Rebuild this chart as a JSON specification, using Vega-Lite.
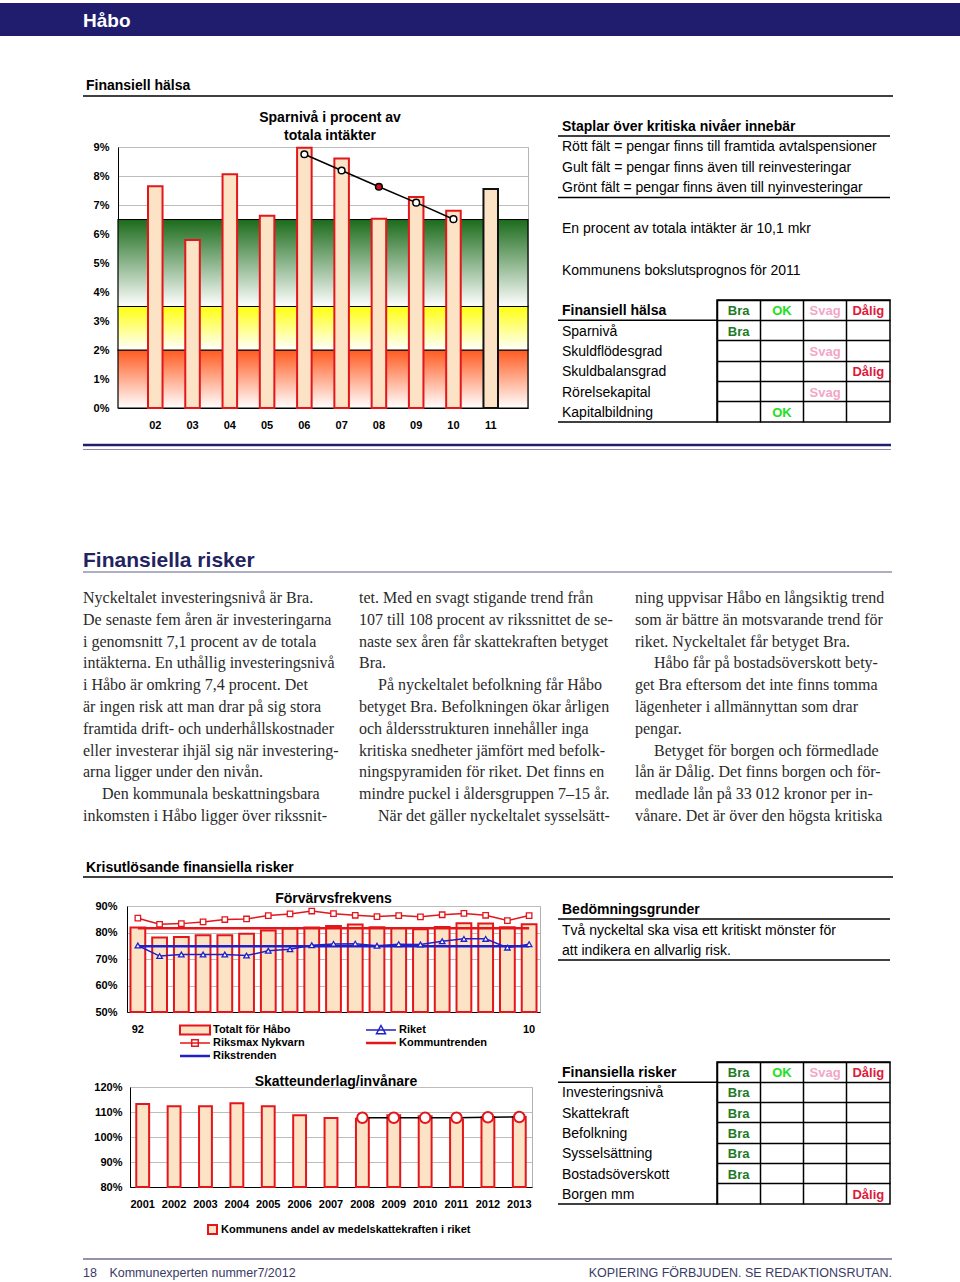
{
"$schema":"https://vega.github.io/schema/vega-lite/v6.json",
"padding":{"top":3,"left":0,"right":0,"bottom":0},
"background":"#ffffff",
"spacing":0,
"bounds":"flush",
"config":{"view":{"stroke":null},"font":"Liberation Sans","axis":{"labelFont":"Liberation Sans","labelFontWeight":"bold","labelFontSize":11,"labelColor":"#000000","domainColor":"#000000","domainWidth":1,"labelOverlap":false},"title":{"font":"Liberation Sans","fontWeight":"bold","fontSize":14,"color":"#000000"}},
"datasets":{
"sparniva":[
{"ar":"02","varde":7.65,"trend":null,"typ":"Utfall"},
{"ar":"03","varde":5.79,"trend":null,"typ":"Utfall"},
{"ar":"04","varde":8.06,"trend":null,"typ":"Utfall"},
{"ar":"05","varde":6.63,"trend":null,"typ":"Utfall"},
{"ar":"06","varde":8.97,"trend":8.75,"typ":"Utfall"},
{"ar":"07","varde":8.6,"trend":8.19,"typ":"Utfall"},
{"ar":"08","varde":6.53,"trend":7.63,"typ":"Utfall"},
{"ar":"09","varde":7.28,"trend":7.08,"typ":"Utfall"},
{"ar":"10","varde":6.8,"trend":6.51,"typ":"Utfall"},
{"ar":"11","varde":7.55,"trend":null,"typ":"Prognos"}],
"zoner":[{"zon":"Rött","fran":0,"till":2},{"zon":"Gult","fran":2,"till":3.5},{"zon":"Grönt","fran":3.5,"till":6.5}],
"forvarv":[
{"ar":1992,"habo":81.9,"riksmax":85.4,"riket":75.1,"kommuntrend":81.6,"rikstrend":74.8},
{"ar":1993,"habo":78.1,"riksmax":83.1,"riket":71.1,"kommuntrend":81.6,"rikstrend":74.8},
{"ar":1994,"habo":78.3,"riksmax":83.35,"riket":71.7,"kommuntrend":81.6,"rikstrend":74.8},
{"ar":1995,"habo":79.0,"riksmax":84.0,"riket":71.7,"kommuntrend":81.6,"rikstrend":74.8},
{"ar":1996,"habo":79.0,"riksmax":84.9,"riket":71.7,"kommuntrend":81.6,"rikstrend":74.8},
{"ar":1997,"habo":79.5,"riksmax":85.1,"riket":71.3,"kommuntrend":81.6,"rikstrend":74.8},
{"ar":1998,"habo":80.8,"riksmax":86.4,"riket":73.1,"kommuntrend":81.6,"rikstrend":74.8},
{"ar":1999,"habo":81.5,"riksmax":87.0,"riket":73.7,"kommuntrend":81.6,"rikstrend":74.8},
{"ar":2000,"habo":81.9,"riksmax":88.1,"riket":75.2,"kommuntrend":81.6,"rikstrend":74.8},
{"ar":2001,"habo":82.5,"riksmax":87.1,"riket":75.7,"kommuntrend":81.6,"rikstrend":74.8},
{"ar":2002,"habo":83.0,"riksmax":86.5,"riket":75.8,"kommuntrend":81.6,"rikstrend":74.8},
{"ar":2003,"habo":82.0,"riksmax":86.0,"riket":75.0,"kommuntrend":81.6,"rikstrend":74.8},
{"ar":2004,"habo":81.7,"riksmax":86.4,"riket":75.6,"kommuntrend":81.6,"rikstrend":74.8},
{"ar":2005,"habo":81.2,"riksmax":85.9,"riket":75.5,"kommuntrend":81.6,"rikstrend":74.8},
{"ar":2006,"habo":82.1,"riksmax":86.7,"riket":76.7,"kommuntrend":81.6,"rikstrend":74.8},
{"ar":2007,"habo":83.5,"riksmax":87.2,"riket":77.6,"kommuntrend":81.6,"rikstrend":74.8},
{"ar":2008,"habo":83.4,"riksmax":86.5,"riket":77.6,"kommuntrend":81.6,"rikstrend":74.8},
{"ar":2009,"habo":82.0,"riksmax":84.5,"riket":74.3,"kommuntrend":81.6,"rikstrend":74.8},
{"ar":2010,"habo":83.1,"riksmax":86.4,"riket":75.6,"kommuntrend":81.6,"rikstrend":74.8}],
"skatt":[
{"ar":2001,"andel":113.2,"trend":null},
{"ar":2002,"andel":112.3,"trend":null},
{"ar":2003,"andel":112.3,"trend":null},
{"ar":2004,"andel":113.5,"trend":null},
{"ar":2005,"andel":112.3,"trend":null},
{"ar":2006,"andel":108.7,"trend":null},
{"ar":2007,"andel":107.6,"trend":null},
{"ar":2008,"andel":107.3,"trend":107.7},
{"ar":2009,"andel":108.7,"trend":107.7},
{"ar":2010,"andel":108.3,"trend":107.7},
{"ar":2011,"andel":107.0,"trend":107.7},
{"ar":2012,"andel":107.9,"trend":107.9},
{"ar":2013,"andel":108.0,"trend":108.0}],
"text1":[
{"rad":0,"text":"Staplar över kritiska nivåer innebär"},
{"rad":1,"text":"Rött fält = pengar finns till framtida avtalspensioner"},
{"rad":2,"text":"Gult fält = pengar finns även till reinvesteringar"},
{"rad":3,"text":"Grönt fält = pengar finns även till nyinvesteringar"},
{"rad":5,"text":"En procent av totala intäkter är 10,1 mkr"},
{"rad":7,"text":"Kommunens bokslutsprognos för 2011"}],
"text3":[
{"rad":0,"text":"Bedömningsgrunder"},
{"rad":1,"text":"Två nyckeltal ska visa ett kritiskt mönster för"},
{"rad":2,"text":"att indikera en allvarlig risk."}],
"rader1":[{"rad":"Finansiell hälsa"},{"rad":"Sparnivå"},{"rad":"Skuldflödesgrad"},{"rad":"Skuldbalansgrad"},{"rad":"Rörelsekapital"},{"rad":"Kapitalbildning"}],
"tabell1":[
{"rad":"Finansiell hälsa","betyg":"Bra"},{"rad":"Finansiell hälsa","betyg":"OK"},{"rad":"Finansiell hälsa","betyg":"Svag"},{"rad":"Finansiell hälsa","betyg":"Dålig"},
{"rad":"Sparnivå","betyg":"Bra"},{"rad":"Skuldflödesgrad","betyg":"Svag"},{"rad":"Skuldbalansgrad","betyg":"Dålig"},{"rad":"Rörelsekapital","betyg":"Svag"},{"rad":"Kapitalbildning","betyg":"OK"}],
"rader2":[{"rad":"Finansiella risker"},{"rad":"Investeringsnivå"},{"rad":"Skattekraft"},{"rad":"Befolkning"},{"rad":"Sysselsättning"},{"rad":"Bostadsöverskott"},{"rad":"Borgen mm"}],
"tabell2":[
{"rad":"Finansiella risker","betyg":"Bra"},{"rad":"Finansiella risker","betyg":"OK"},{"rad":"Finansiella risker","betyg":"Svag"},{"rad":"Finansiella risker","betyg":"Dålig"},
{"rad":"Investeringsnivå","betyg":"Bra"},{"rad":"Skattekraft","betyg":"Bra"},{"rad":"Befolkning","betyg":"Bra"},{"rad":"Sysselsättning","betyg":"Bra"},{"rad":"Bostadsöverskott","betyg":"Bra"},{"rad":"Borgen mm","betyg":"Dålig"}],
"legend1":[
{"serie":"Totalt för Håbo","kol":0,"rad":0},
{"serie":"Riket","kol":1,"rad":0},
{"serie":"Riksmax Nykvarn","kol":0,"rad":1},
{"serie":"Kommuntrenden","kol":1,"rad":1},
{"serie":"Rikstrenden","kol":0,"rad":2}],
"brodtext":[
{"kol":1,"rad":0,"nyttStycke":false,"text":"Nyckeltalet investeringsnivå är Bra."},
{"kol":1,"rad":1,"nyttStycke":false,"text":"De senaste fem åren är investeringarna"},
{"kol":1,"rad":2,"nyttStycke":false,"text":"i genomsnitt 7,1 procent av de totala"},
{"kol":1,"rad":3,"nyttStycke":false,"text":"intäkterna. En uthållig investeringsnivå"},
{"kol":1,"rad":4,"nyttStycke":false,"text":"i Håbo är omkring 7,4 procent. Det"},
{"kol":1,"rad":5,"nyttStycke":false,"text":"är ingen risk att man drar på sig stora"},
{"kol":1,"rad":6,"nyttStycke":false,"text":"framtida drift- och underhållskostnader"},
{"kol":1,"rad":7,"nyttStycke":false,"text":"eller investerar ihjäl sig när investering-"},
{"kol":1,"rad":8,"nyttStycke":false,"text":"arna ligger under den nivån."},
{"kol":1,"rad":9,"nyttStycke":true,"text":"Den kommunala beskattningsbara"},
{"kol":1,"rad":10,"nyttStycke":false,"text":"inkomsten i Håbo ligger över rikssnit-"},
{"kol":2,"rad":0,"nyttStycke":false,"text":"tet. Med en svagt stigande trend från"},
{"kol":2,"rad":1,"nyttStycke":false,"text":"107 till 108 procent av rikssnittet de se-"},
{"kol":2,"rad":2,"nyttStycke":false,"text":"naste sex åren får skattekraften betyget"},
{"kol":2,"rad":3,"nyttStycke":false,"text":"Bra."},
{"kol":2,"rad":4,"nyttStycke":true,"text":"På nyckeltalet befolkning får Håbo"},
{"kol":2,"rad":5,"nyttStycke":false,"text":"betyget Bra. Befolkningen ökar årligen"},
{"kol":2,"rad":6,"nyttStycke":false,"text":"och åldersstrukturen innehåller inga"},
{"kol":2,"rad":7,"nyttStycke":false,"text":"kritiska snedheter jämfört med befolk-"},
{"kol":2,"rad":8,"nyttStycke":false,"text":"ningspyramiden för riket. Det finns en"},
{"kol":2,"rad":9,"nyttStycke":false,"text":"mindre puckel i åldersgruppen 7–15 år."},
{"kol":2,"rad":10,"nyttStycke":true,"text":"När det gäller nyckeltalet sysselsätt-"},
{"kol":3,"rad":0,"nyttStycke":false,"text":"ning uppvisar Håbo en långsiktig trend"},
{"kol":3,"rad":1,"nyttStycke":false,"text":"som är bättre än motsvarande trend för"},
{"kol":3,"rad":2,"nyttStycke":false,"text":"riket. Nyckeltalet får betyget Bra."},
{"kol":3,"rad":3,"nyttStycke":true,"text":"Håbo får på bostadsöverskott bety-"},
{"kol":3,"rad":4,"nyttStycke":false,"text":"get Bra eftersom det inte finns tomma"},
{"kol":3,"rad":5,"nyttStycke":false,"text":"lägenheter i allmännyttan som drar"},
{"kol":3,"rad":6,"nyttStycke":false,"text":"pengar."},
{"kol":3,"rad":7,"nyttStycke":true,"text":"Betyget för borgen och förmedlade"},
{"kol":3,"rad":8,"nyttStycke":false,"text":"lån är Dålig. Det finns borgen och för-"},
{"kol":3,"rad":9,"nyttStycke":false,"text":"medlade lån på 33 012 kronor per in-"},
{"kol":3,"rad":10,"nyttStycke":false,"text":"vånare. Det är över den högsta kritiska"}]
},
"vconcat":[
{"hconcat":[
 {"width":83,"height":33,"view":{"fill":"#201d6f"},"data":{"values":[{}]},"mark":{"type":"text","text":""}},
 {"width":877,"height":33,"view":{"fill":"#201d6f"},"data":{"values":[{"namn":"Håbo"}]},"mark":{"type":"text","align":"left","baseline":"middle","fontSize":19,"fontWeight":"bold","color":"#ffffff","dy":1},"encoding":{"x":{"value":0},"text":{"field":"namn"}}}
],"spacing":0,"bounds":"flush"},
{"width":0,"height":33,"data":{"values":[{}]},"mark":{"type":"text","text":""}},

{"hconcat":[
 {"width":83,"height":1,"data":{"values":[{}]},"mark":{"type":"text","text":""}},
 {"width":810,"height":60,"data":{"values":[{"rad":0,"rubrik":"Finansiell hälsa"}]},
  "encoding":{"y":{"field":"rad","type":"quantitative","scale":{"domain":[-2.7,0.3],"reverse":true,"nice":false,"zero":false},"axis":null}},
  "layer":[
   {"mark":{"type":"text","align":"left","baseline":"alphabetic","fontSize":14,"fontWeight":"bold","color":"#000000","dx":3},"encoding":{"x":{"value":0},"text":{"field":"rubrik"}}},
   {"mark":{"type":"rule","color":"#000000","strokeWidth":1.5,"yOffset":6},"encoding":{}}
  ]}
],"spacing":0,"bounds":"flush"},
{"width":0,"height":80,"data":{"values":[{}]},"mark":{"type":"text","text":""}},

{"hconcat":[
 {"width":558,"height":1,"data":{"values":[{}]},"mark":{"type":"text","text":""}},
 {"width":332,"height":184,"data":{"name":"text1"},
  "encoding":{"y":{"field":"rad","type":"quantitative","scale":{"domain":[-0.7317,8.2439],"reverse":true,"nice":false,"zero":false},"axis":null}},
  "layer":[
   {"transform":[{"filter":"datum.rad === 0"}],"mark":{"type":"text","align":"left","baseline":"alphabetic","fontSize":14,"fontWeight":"bold","color":"#000000","dx":4},"encoding":{"x":{"value":0},"text":{"field":"text"}}},
   {"transform":[{"filter":"datum.rad !== 0"}],"mark":{"type":"text","align":"left","baseline":"alphabetic","fontSize":14,"color":"#000000","dx":4},"encoding":{"x":{"value":0},"text":{"field":"text"}}},
   {"transform":[{"filter":"datum.rad === 0 || datum.rad === 3"}],"mark":{"type":"rule","color":"#000000","strokeWidth":1.5,"yOffset":5},"encoding":{}}
  ]}
],"spacing":0,"bounds":"flush"},
{"width":0,"height":31,"data":{"values":[{}]},"mark":{"type":"text","text":""}},

{"hconcat":[
 {"width":118,"height":1,"data":{"values":[{}]},"mark":{"type":"text","text":""}},
 {"width":410,"height":261,
  "title":{"text":["Sparnivå i procent av","totala intäkter"],"anchor":"middle","offset":4,"lineHeight":18.5,"dx":7,"dy":6},
  "view":{"stroke":"#b5b5b5"},
  "layer":[
   {"data":{"name":"zoner"},"transform":[{"filter":"datum.zon === 'Rött'"}],
    "mark":{"type":"rect","stroke":"#000000","strokeWidth":1.2,"fill":{"gradient":"linear","x1":0,"y1":0,"x2":0,"y2":1,"stops":[{"offset":0,"color":"#ff5a1f"},{"offset":1,"color":"#ffffff"}]}},
    "encoding":{"y":{"field":"fran","type":"quantitative","scale":{"domain":[0,9],"nice":false,"zero":true},"axis":{"values":[0,1,2,3,4,5,6,7,8,9],"labelOverlap":false,"labelExpr":"datum.value + '%'","grid":true,"gridColor":"#bdbdbd","ticks":false,"labelPadding":9,"title":null}},"y2":{"field":"till"}}},
   {"data":{"name":"zoner"},"transform":[{"filter":"datum.zon === 'Gult'"}],
    "mark":{"type":"rect","stroke":"#000000","strokeWidth":1.2,"fill":{"gradient":"linear","x1":0,"y1":0,"x2":0,"y2":1,"stops":[{"offset":0,"color":"#ffff10"},{"offset":1,"color":"#ffffff"}]}},
    "encoding":{"y":{"field":"fran","type":"quantitative","axis":{"values":[0,1,2,3,4,5,6,7,8,9],"labelOverlap":false,"labelExpr":"datum.value + '%'","grid":true,"gridColor":"#bdbdbd","ticks":false,"labelPadding":9,"title":null}},"y2":{"field":"till"}}},
   {"data":{"name":"zoner"},"transform":[{"filter":"datum.zon === 'Grönt'"}],
    "mark":{"type":"rect","stroke":"#000000","strokeWidth":1.2,"fill":{"gradient":"linear","x1":0,"y1":0,"x2":0,"y2":1,"stops":[{"offset":0,"color":"#1b6b1b"},{"offset":1,"color":"#ffffff"}]}},
    "encoding":{"y":{"field":"fran","type":"quantitative","axis":{"values":[0,1,2,3,4,5,6,7,8,9],"labelOverlap":false,"labelExpr":"datum.value + '%'","grid":true,"gridColor":"#bdbdbd","ticks":false,"labelPadding":9,"title":null}},"y2":{"field":"till"}}},
   {"data":{"name":"sparniva"},"mark":{"type":"bar","fill":"#fde3c6","strokeWidth":2},
    "encoding":{"x":{"field":"ar","type":"ordinal","scale":{"paddingInner":0.61,"paddingOuter":0.805},"axis":{"labelAngle":0,"ticks":false,"labelPadding":11,"title":null}},"y":{"field":"varde","type":"quantitative","axis":{"values":[0,1,2,3,4,5,6,7,8,9],"labelOverlap":false,"labelExpr":"datum.value + '%'","grid":true,"gridColor":"#bdbdbd","ticks":false,"labelPadding":9,"title":null}},"stroke":{"field":"typ","type":"nominal","scale":{"domain":["Utfall","Prognos"],"range":["#e3161b","#111111"]},"legend":null}}},
   {"data":{"name":"sparniva"},"transform":[{"filter":"datum.trend != null"}],"mark":{"type":"line","color":"#000000","strokeWidth":1.5},
    "encoding":{"x":{"field":"ar","type":"ordinal"},"y":{"field":"trend","type":"quantitative","axis":{"values":[0,1,2,3,4,5,6,7,8,9],"labelOverlap":false,"labelExpr":"datum.value + '%'","grid":true,"gridColor":"#bdbdbd","ticks":false,"labelPadding":9,"title":null}}}},
   {"data":{"name":"sparniva"},"transform":[{"filter":"datum.trend != null"}],"mark":{"type":"point","shape":"circle","filled":true,"size":45,"stroke":"#000000","strokeWidth":1.5,"opacity":1},
    "encoding":{"x":{"field":"ar","type":"ordinal"},"y":{"field":"trend","type":"quantitative","axis":{"values":[0,1,2,3,4,5,6,7,8,9],"labelOverlap":false,"labelExpr":"datum.value + '%'","grid":true,"gridColor":"#bdbdbd","ticks":false,"labelPadding":9,"title":null}},"fill":{"condition":{"test":"datum.ar === '08'","value":"#c8101e"},"value":"#ffffff"}}}
  ]}
],"spacing":0,"bounds":"flush"},
{"width":0,"height":153,"data":{"values":[{}]},"mark":{"type":"text","text":""}},

{"hconcat":[
 {"width":558,"height":1,"data":{"values":[{}]},"mark":{"type":"text","text":""}},
 {"width":159,"height":122,"data":{"name":"rader1"},
  "encoding":{"y":{"field":"rad","type":"nominal","scale":{"type":"band","domain":["Finansiell hälsa","Sparnivå","Skuldflödesgrad","Skuldbalansgrad","Rörelsekapital","Kapitalbildning"],"paddingInner":0,"paddingOuter":0},"axis":null}},
  "layer":[
   {"transform":[{"filter":"datum.rad === 'Finansiell hälsa'"}],"mark":{"type":"text","align":"left","baseline":"middle","fontSize":14,"fontWeight":"bold","color":"#000000","dx":4,"dy":1},"encoding":{"x":{"value":0},"text":{"field":"rad"}}},
   {"transform":[{"filter":"datum.rad !== 'Finansiell hälsa'"}],"mark":{"type":"text","align":"left","baseline":"middle","fontSize":14,"color":"#000000","dx":4,"dy":1},"encoding":{"x":{"value":0},"text":{"field":"rad"}}},
   {"transform":[{"filter":"datum.rad === 'Finansiell hälsa' || datum.rad === 'Kapitalbildning'"}],"mark":{"type":"rule","color":"#000000","strokeWidth":1.5},"encoding":{"y":{"field":"rad","type":"nominal","bandPosition":1}}}
  ]},
 {"width":173,"height":122,"view":{"stroke":"#000000","strokeWidth":1.5},"data":{"name":"tabell1"},
  "mark":{"type":"text","fontSize":13,"fontWeight":"bold","baseline":"middle","dy":1},
  "encoding":{
   "x":{"field":"betyg","type":"nominal","scale":{"type":"band","domain":["Bra","OK","Svag","Dålig"],"paddingInner":0,"paddingOuter":0},"axis":{"labels":false,"ticks":false,"domain":false,"grid":true,"gridColor":"#000000","gridWidth":1.5,"bandPosition":0,"title":null}},
   "y":{"field":"rad","type":"nominal","scale":{"type":"band","domain":["Finansiell hälsa","Sparnivå","Skuldflödesgrad","Skuldbalansgrad","Rörelsekapital","Kapitalbildning"],"paddingInner":0,"paddingOuter":0},"axis":{"labels":false,"ticks":false,"domain":false,"grid":true,"gridColor":"#000000","gridWidth":1.5,"bandPosition":0,"title":null}},
   "text":{"field":"betyg"},
   "color":{"field":"betyg","type":"nominal","scale":{"domain":["Bra","OK","Svag","Dålig"],"range":["#1d7a24","#21e021","#f3a5c8","#de1a3a"]},"legend":null}}}
],"spacing":0,"bounds":"flush"},
{"width":0,"height":122,"data":{"values":[{}]},"mark":{"type":"text","text":""}},

{"hconcat":[
 {"width":83,"height":1,"data":{"values":[{}]},"mark":{"type":"text","text":""}},
 {"width":808,"height":33,"data":{"values":[{"nr":0},{"nr":1}]},
  "encoding":{"y":{"field":"nr","type":"quantitative","scale":{"domain":[-5.111,2.222],"reverse":true,"nice":false,"zero":false},"axis":null}},
  "layer":[
   {"transform":[{"filter":"datum.nr === 0"}],"mark":{"type":"rule","color":"#201d6f","strokeWidth":2.5},"encoding":{}},
   {"transform":[{"filter":"datum.nr === 1"}],"mark":{"type":"rule","color":"#8a8aa6","strokeWidth":1},"encoding":{}}
  ]}
],"spacing":0,"bounds":"flush"},
{"width":0,"height":33,"data":{"values":[{}]},"mark":{"type":"text","text":""}},

{"hconcat":[
 {"width":83,"height":1,"data":{"values":[{}]},"mark":{"type":"text","text":""}},
 {"width":809,"height":117,"data":{"values":[{"rad":0,"rubrik":"Finansiella risker"}]},
  "encoding":{"y":{"field":"rad","type":"quantitative","scale":{"domain":[-5.6,0.25],"reverse":true,"nice":false,"zero":false},"axis":null}},
  "layer":[
   {"mark":{"type":"text","align":"left","baseline":"alphabetic","fontSize":21,"fontWeight":"bold","color":"#24235f"},"encoding":{"x":{"value":0},"text":{"field":"rubrik"}}},
   {"mark":{"type":"rule","color":"#5f5f85","strokeWidth":1.2,"yOffset":5},"encoding":{}}
  ]}
],"spacing":0,"bounds":"flush"},
{"width":0,"height":117,"data":{"values":[{}]},"mark":{"type":"text","text":""}},

{"hconcat":[
 {"width":83,"height":1,"data":{"values":[{}]},"mark":{"type":"text","text":""}},
 {"width":276,"height":258,"data":{"name":"brodtext"},"transform":[{"filter":"datum.kol === 1"}],
  "encoding":{"x":{"value":0},"y":{"field":"rad","type":"quantitative","scale":{"domain":[-1.422,10.413],"reverse":true,"nice":false,"zero":false},"axis":null},"text":{"field":"text"}},
  "layer":[
   {"transform":[{"filter":"!datum.nyttStycke"}],"mark":{"type":"text","align":"left","baseline":"alphabetic","font":"Liberation Serif","fontSize":16,"color":"#2a2a2a"}},
   {"transform":[{"filter":"datum.nyttStycke"}],"mark":{"type":"text","align":"left","baseline":"alphabetic","font":"Liberation Serif","fontSize":16,"color":"#2a2a2a","dx":19}}
  ]},
 {"width":276,"height":258,"data":{"name":"brodtext"},"transform":[{"filter":"datum.kol === 2"}],
  "encoding":{"x":{"value":0},"y":{"field":"rad","type":"quantitative","scale":{"domain":[-1.422,10.413],"reverse":true,"nice":false,"zero":false},"axis":null},"text":{"field":"text"}},
  "layer":[
   {"transform":[{"filter":"!datum.nyttStycke"}],"mark":{"type":"text","align":"left","baseline":"alphabetic","font":"Liberation Serif","fontSize":16,"color":"#2a2a2a"}},
   {"transform":[{"filter":"datum.nyttStycke"}],"mark":{"type":"text","align":"left","baseline":"alphabetic","font":"Liberation Serif","fontSize":16,"color":"#2a2a2a","dx":19}}
  ]},
 {"width":255,"height":258,"data":{"name":"brodtext"},"transform":[{"filter":"datum.kol === 3"}],
  "encoding":{"x":{"value":0},"y":{"field":"rad","type":"quantitative","scale":{"domain":[-1.422,10.413],"reverse":true,"nice":false,"zero":false},"axis":null},"text":{"field":"text"}},
  "layer":[
   {"transform":[{"filter":"!datum.nyttStycke"}],"mark":{"type":"text","align":"left","baseline":"alphabetic","font":"Liberation Serif","fontSize":16,"color":"#2a2a2a"}},
   {"transform":[{"filter":"datum.nyttStycke"}],"mark":{"type":"text","align":"left","baseline":"alphabetic","font":"Liberation Serif","fontSize":16,"color":"#2a2a2a","dx":19}}
  ]}
],"spacing":0,"bounds":"flush"},
{"width":0,"height":258,"data":{"values":[{}]},"mark":{"type":"text","text":""}},

{"hconcat":[
 {"width":83,"height":1,"data":{"values":[{}]},"mark":{"type":"text","text":""}},
 {"width":810,"height":47,"data":{"values":[{"rad":0,"rubrik":"Krisutlösande finansiella risker"}]},
  "encoding":{"y":{"field":"rad","type":"quantitative","scale":{"domain":[-2.1,0.25],"reverse":true,"nice":false,"zero":false},"axis":null}},
  "layer":[
   {"mark":{"type":"text","align":"left","baseline":"alphabetic","fontSize":14,"fontWeight":"bold","color":"#000000","dx":3},"encoding":{"x":{"value":0},"text":{"field":"rubrik"}}},
   {"mark":{"type":"rule","color":"#000000","strokeWidth":1.5,"yOffset":5},"encoding":{}}
  ]}
],"spacing":0,"bounds":"flush"},
{"width":0,"height":47,"data":{"values":[{}]},"mark":{"type":"text","text":""}},

{"hconcat":[
 {"width":558,"height":1,"data":{"values":[{}]},"mark":{"type":"text","text":""}},
 {"width":332,"height":185,"data":{"name":"text3"},
  "encoding":{"y":{"field":"rad","type":"quantitative","scale":{"domain":[-1.8049,7.2195],"reverse":true,"nice":false,"zero":false},"axis":null}},
  "layer":[
   {"transform":[{"filter":"datum.rad === 0"}],"mark":{"type":"text","align":"left","baseline":"alphabetic","fontSize":14,"fontWeight":"bold","color":"#000000","dx":4},"encoding":{"x":{"value":0},"text":{"field":"text"}}},
   {"transform":[{"filter":"datum.rad !== 0"}],"mark":{"type":"text","align":"left","baseline":"alphabetic","fontSize":14,"color":"#000000","dx":4},"encoding":{"x":{"value":0},"text":{"field":"text"}}},
   {"transform":[{"filter":"datum.rad === 0 || datum.rad === 2"}],"mark":{"type":"rule","color":"#000000","strokeWidth":1.5,"yOffset":5},"encoding":{}}
  ]}
],"spacing":0,"bounds":"flush"},
{"width":0,"height":29,"data":{"values":[{}]},"mark":{"type":"text","text":""}},

{"hconcat":[
 {"width":127,"height":1,"data":{"values":[{}]},"mark":{"type":"text","text":""}},
 {"width":413,"height":106,"title":{"text":"Förvärvsfrekvens","anchor":"middle","offset":1,"dy":7},"view":{"stroke":"#b0b0b0"},"data":{"name":"forvarv"},
  "encoding":{"x":{"field":"ar","type":"ordinal","scale":{"paddingInner":0.32,"paddingOuter":0.16},"axis":{"labelExpr":"datum.value == 1992 ? '92' : datum.value == 2010 ? '10' : ''","labelAngle":0,"ticks":false,"labelPadding":11,"title":null}}},
  "layer":[
   {"mark":{"type":"bar","fill":"#fde3c6","stroke":"#e3161b","strokeWidth":2},"encoding":{"y":{"field":"habo","type":"quantitative","scale":{"domain":[50,90],"nice":false,"zero":false,"clamp":true},"axis":{"values":[50,60,70,80,90],"labelOverlap":false,"labelExpr":"datum.value + '%'","grid":true,"gridColor":"#bdbdbd","ticks":false,"labelPadding":10,"title":null}}}},
   {"mark":{"type":"line","color":"#e3161b","strokeWidth":2.5},"encoding":{"y":{"field":"kommuntrend","type":"quantitative","axis":{"values":[50,60,70,80,90],"labelOverlap":false,"labelExpr":"datum.value + '%'","grid":true,"gridColor":"#bdbdbd","ticks":false,"labelPadding":10,"title":null}}}},
   {"mark":{"type":"line","color":"#2020c8","strokeWidth":2.5},"encoding":{"y":{"field":"rikstrend","type":"quantitative","axis":{"values":[50,60,70,80,90],"labelOverlap":false,"labelExpr":"datum.value + '%'","grid":true,"gridColor":"#bdbdbd","ticks":false,"labelPadding":10,"title":null}}}},
   {"mark":{"type":"line","color":"#e3161b","strokeWidth":1.5},"encoding":{"y":{"field":"riksmax","type":"quantitative","axis":{"values":[50,60,70,80,90],"labelOverlap":false,"labelExpr":"datum.value + '%'","grid":true,"gridColor":"#bdbdbd","ticks":false,"labelPadding":10,"title":null}}}},
   {"mark":{"type":"point","shape":"square","filled":true,"fill":"#ffffff","stroke":"#e3161b","strokeWidth":1.3,"size":30,"opacity":1},"encoding":{"y":{"field":"riksmax","type":"quantitative","axis":{"values":[50,60,70,80,90],"labelOverlap":false,"labelExpr":"datum.value + '%'","grid":true,"gridColor":"#bdbdbd","ticks":false,"labelPadding":10,"title":null}}}},
   {"mark":{"type":"line","color":"#2020c8","strokeWidth":1.5},"encoding":{"y":{"field":"riket","type":"quantitative","axis":{"values":[50,60,70,80,90],"labelOverlap":false,"labelExpr":"datum.value + '%'","grid":true,"gridColor":"#bdbdbd","ticks":false,"labelPadding":10,"title":null}}}},
   {"mark":{"type":"point","shape":"triangle-up","filled":true,"fill":"#ffffff","stroke":"#2020c8","strokeWidth":1.3,"size":30,"opacity":1},"encoding":{"y":{"field":"riket","type":"quantitative","axis":{"values":[50,60,70,80,90],"labelOverlap":false,"labelExpr":"datum.value + '%'","grid":true,"gridColor":"#bdbdbd","ticks":false,"labelPadding":10,"title":null}}}}
  ]}
],"spacing":0,"bounds":"flush"},
{"width":0,"height":106,"data":{"values":[{}]},"mark":{"type":"text","text":""}},

{"hconcat":[
 {"width":180,"height":1,"data":{"values":[{}]},"mark":{"type":"text","text":""}},
 {"width":300,"height":75,"data":{"name":"legend1"},
  "encoding":{"x":{"field":"kol","type":"quantitative","scale":{"domain":[-0.0806,1.5323],"nice":false,"zero":false},"axis":null},"y":{"field":"rad","type":"quantitative","scale":{"domain":[-1.3846,4.3846],"reverse":true,"nice":false,"zero":false},"axis":null}},
  "layer":[
   {"transform":[{"filter":"datum.serie === 'Totalt för Håbo'"}],"mark":{"type":"point","shape":"M-1,-0.3H1V0.3H-1Z","size":900,"filled":true,"fill":"#fde3c6","stroke":"#e3161b","strokeWidth":2,"opacity":1}},
   {"transform":[{"filter":"datum.serie === 'Riket'"}],"mark":{"type":"point","shape":"M-1,0H1M0,-0.3L0.3,0.25H-0.3Z","size":900,"filled":true,"fill":"#ffffff","stroke":"#2020c8","strokeWidth":1.5,"opacity":1}},
   {"transform":[{"filter":"datum.serie === 'Riksmax Nykvarn'"}],"mark":{"type":"point","shape":"M-1,0H1M-0.22,-0.22H0.22V0.22H-0.22Z","size":900,"filled":true,"fill":"#ffffff","stroke":"#e3161b","strokeWidth":1.5,"opacity":1}},
   {"transform":[{"filter":"datum.serie === 'Kommuntrenden'"}],"mark":{"type":"point","shape":"M-1,0H1","size":900,"filled":false,"stroke":"#e3161b","strokeWidth":2.5,"opacity":1}},
   {"transform":[{"filter":"datum.serie === 'Rikstrenden'"}],"mark":{"type":"point","shape":"M-1,0H1","size":900,"filled":false,"stroke":"#2020c8","strokeWidth":2.5,"opacity":1}},
   {"mark":{"type":"text","align":"left","baseline":"middle","fontSize":11,"fontWeight":"bold","color":"#000000","dx":18},"encoding":{"text":{"field":"serie"}}}
  ]}
],"spacing":0,"bounds":"flush"},
{"width":0,"height":50,"data":{"values":[{}]},"mark":{"type":"text","text":""}},

{"hconcat":[
 {"width":558,"height":1,"data":{"values":[{}]},"mark":{"type":"text","text":""}},
 {"width":159,"height":142,"data":{"name":"rader2"},
  "encoding":{"y":{"field":"rad","type":"nominal","scale":{"type":"band","domain":["Finansiella risker","Investeringsnivå","Skattekraft","Befolkning","Sysselsättning","Bostadsöverskott","Borgen mm"],"paddingInner":0,"paddingOuter":0},"axis":null}},
  "layer":[
   {"transform":[{"filter":"datum.rad === 'Finansiella risker'"}],"mark":{"type":"text","align":"left","baseline":"middle","fontSize":14,"fontWeight":"bold","color":"#000000","dx":4,"dy":1},"encoding":{"x":{"value":0},"text":{"field":"rad"}}},
   {"transform":[{"filter":"datum.rad !== 'Finansiella risker'"}],"mark":{"type":"text","align":"left","baseline":"middle","fontSize":14,"color":"#000000","dx":4,"dy":1},"encoding":{"x":{"value":0},"text":{"field":"rad"}}},
   {"transform":[{"filter":"datum.rad === 'Finansiella risker' || datum.rad === 'Borgen mm'"}],"mark":{"type":"rule","color":"#000000","strokeWidth":1.5},"encoding":{"y":{"field":"rad","type":"nominal","bandPosition":1}}}
  ]},
 {"width":173,"height":142,"view":{"stroke":"#000000","strokeWidth":1.5},"data":{"name":"tabell2"},
  "mark":{"type":"text","fontSize":13,"fontWeight":"bold","baseline":"middle","dy":1},
  "encoding":{
   "x":{"field":"betyg","type":"nominal","scale":{"type":"band","domain":["Bra","OK","Svag","Dålig"],"paddingInner":0,"paddingOuter":0},"axis":{"labels":false,"ticks":false,"domain":false,"grid":true,"gridColor":"#000000","gridWidth":1.5,"bandPosition":0,"title":null}},
   "y":{"field":"rad","type":"nominal","scale":{"type":"band","domain":["Finansiella risker","Investeringsnivå","Skattekraft","Befolkning","Sysselsättning","Bostadsöverskott","Borgen mm"],"paddingInner":0,"paddingOuter":0},"axis":{"labels":false,"ticks":false,"domain":false,"grid":true,"gridColor":"#000000","gridWidth":1.5,"bandPosition":0,"title":null}},
   "text":{"field":"betyg"},
   "color":{"field":"betyg","type":"nominal","scale":{"domain":["Bra","OK","Svag","Dålig"],"range":["#1d7a24","#21e021","#f3a5c8","#de1a3a"]},"legend":null}}}
],"spacing":0,"bounds":"flush"},
{"width":0,"height":25,"data":{"values":[{}]},"mark":{"type":"text","text":""}},

{"hconcat":[
 {"width":130,"height":1,"data":{"values":[{}]},"mark":{"type":"text","text":""}},
 {"width":402,"height":100,"title":{"text":"Skatteunderlag/invånare","anchor":"middle","offset":0,"dx":5,"dy":8},"view":{"stroke":"#b0b0b0"},"data":{"name":"skatt"},
  "encoding":{"x":{"field":"ar","type":"ordinal","scale":{"paddingInner":0.59,"paddingOuter":0.2},"axis":{"labelAngle":0,"ticks":false,"labelPadding":11,"title":null}}},
  "layer":[
   {"mark":{"type":"bar","stroke":"#e3161b","strokeWidth":2},"encoding":{"y":{"field":"andel","type":"quantitative","scale":{"domain":[80,120],"nice":false,"zero":false,"clamp":true},"axis":{"values":[80,90,100,110,120],"labelOverlap":false,"labelExpr":"datum.value + '%'","grid":true,"gridColor":"#bdbdbd","ticks":false,"labelPadding":8,"title":null}},
    "fill":{"datum":"Kommunens andel av medelskattekraften i riket","type":"nominal","scale":{"range":["#fde3c6"]},"legend":{"orient":"none","legendX":207,"legendY":1221,"title":null,"symbolType":"square","symbolSize":81,"symbolStrokeColor":"#e3161b","symbolStrokeWidth":2,"labelFontWeight":"bold","labelFontSize":11,"labelLimit":0,"labelOffset":3,"labelColor":"#000000","padding":0}}}},
   {"transform":[{"filter":"datum.trend != null"}],"mark":{"type":"line","color":"#000000","strokeWidth":1.5},"encoding":{"y":{"field":"trend","type":"quantitative","axis":{"values":[80,90,100,110,120],"labelOverlap":false,"labelExpr":"datum.value + '%'","grid":true,"gridColor":"#bdbdbd","ticks":false,"labelPadding":8,"title":null}}}},
   {"transform":[{"filter":"datum.trend != null"}],"mark":{"type":"point","shape":"circle","filled":true,"fill":"#ffffff","stroke":"#e3161b","strokeWidth":2,"size":110,"opacity":1},"encoding":{"y":{"field":"trend","type":"quantitative","axis":{"values":[80,90,100,110,120],"labelOverlap":false,"labelExpr":"datum.value + '%'","grid":true,"gridColor":"#bdbdbd","ticks":false,"labelPadding":8,"title":null}}}}
  ]}
],"spacing":0,"bounds":"flush"},
{"width":0,"height":100,"data":{"values":[{}]},"mark":{"type":"text","text":""}},

{"hconcat":[
 {"width":83,"height":1,"data":{"values":[{}]},"mark":{"type":"text","text":""}},
 {"width":809,"height":95,"data":{"values":[{"rad":0,"vanster":"18\u2003Kommunexperten nummer7/2012","hoger":"KOPIERING FÖRBJUDEN. SE REDAKTIONSRUTAN."}]},
  "encoding":{"y":{"field":"rad","type":"quantitative","scale":{"domain":[-4.5,0.25],"reverse":true,"nice":false,"zero":false},"axis":null}},
  "layer":[
   {"mark":{"type":"text","align":"left","baseline":"alphabetic","fontSize":12.5,"color":"#3a3a66"},"encoding":{"x":{"value":0},"text":{"field":"vanster"}}},
   {"mark":{"type":"text","align":"right","baseline":"alphabetic","fontSize":12.5,"color":"#3a3a66"},"encoding":{"x":{"value":"width"},"text":{"field":"hoger"}}},
   {"mark":{"type":"rule","color":"#6f6f92","strokeWidth":1.5,"yOffset":-18},"encoding":{}}
  ]}
],"spacing":0,"bounds":"flush"},
{"width":0,"height":95,"data":{"values":[{}]},"mark":{"type":"text","text":""}}
]
}
